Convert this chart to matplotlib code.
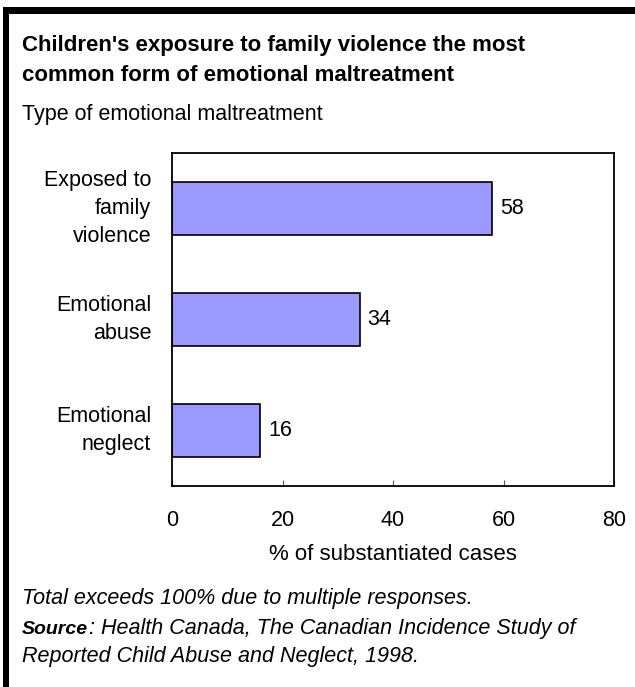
import matplotlib
matplotlib.use('Agg')
import matplotlib.pyplot as plt
from matplotlib.patches import Rectangle
from matplotlib.transforms import ScaledTranslation

plt.rcParams['font.family'] = ['Liberation Sans', 'DejaVu Sans']

####################### DATA #################################
categories = ['Exposed to\nfamily\nviolence', 'Emotional\nabuse', 'Emotional\nneglect']
values = [58, 34, 16]
xticks = [0, 20, 40, 60, 80]

W, H = 635, 687
fig = plt.figure(figsize=(W / 100, H / 100), dpi=100)

####################### FRAME ################################
fig.add_artist(Rectangle((3 / W, 1 - 14 / H), 1, 7 / H, transform=fig.transFigure,
                         color='black', lw=0))
fig.add_artist(Rectangle((3 / W, 0), 6 / W, 1 - 7 / H, transform=fig.transFigure,
                         color='black', lw=0))

####################### TEXTS ################################
fs = 15.5
fig.text(22 / W, 1 - 51 / H, "Children's exposure to family violence the most",
         fontsize=16, fontweight='bold', va='baseline')
fig.text(22 / W, 1 - 81 / H, "common form of emotional maltreatment",
         fontsize=16, fontweight='bold', va='baseline')
fig.text(22 / W, 1 - 120 / H, "Type of emotional maltreatment", fontsize=fs, va='baseline')

fig.text(22 / W, 1 - 604 / H, "Total exceeds 100% due to multiple responses.",
         fontsize=fs, style='italic', va='baseline')
src = fig.text(22 / W, 1 - 634 / H, "Source", fontsize=14, style='italic', fontweight='bold',
               va='baseline')
fig.canvas.draw()
bb = src.get_window_extent()
fig.text((bb.x1 + 1) / W, 1 - 634 / H, ": Health Canada, The Canadian Incidence Study of",
         fontsize=fs, style='italic', va='baseline')
fig.text(22 / W, 1 - 662 / H, "Reported Child Abuse and Neglect, 1998.",
         fontsize=fs, style='italic', va='baseline')

####################### CHART ################################
ax = fig.add_axes([172 / W, 1 - 486 / H, 442 / W, 333 / H])
ypos = list(range(len(values)))
bars = ax.barh(ypos, values, height=0.47, color='#9999ff', edgecolor='black', linewidth=1.2)
for y, v in zip(ypos, values):
    ax.text(v + 1.4, y, str(v), va='center', ha='left', fontsize=fs)

ax.set_xlim(0, 80)
ax.set_ylim(2.5, -0.5)
ax.set_xticks(xticks)
ax.set_yticks(ypos)
ax.set_yticklabels(categories, fontsize=fs, linespacing=1.42, ha='right', va='center')
# nudge labels a bit, like the original
for lab, dy in zip(ax.get_yticklabels(), [-1, 4, 4]):
    lab.set_transform(lab.get_transform() + ScaledTranslation(0, dy / 72, fig.dpi_scale_trans))
ax.tick_params(axis='y', length=0, pad=15)
ax.tick_params(axis='x', direction='in', length=4, width=0.8, color='#555555',
               labelsize=fs, pad=17)
for s in ax.spines.values():
    s.set_linewidth(1.3)
ax.set_xlabel('% of substantiated cases', fontsize=16, labelpad=10)

fig.savefig('out.png', dpi=100)
